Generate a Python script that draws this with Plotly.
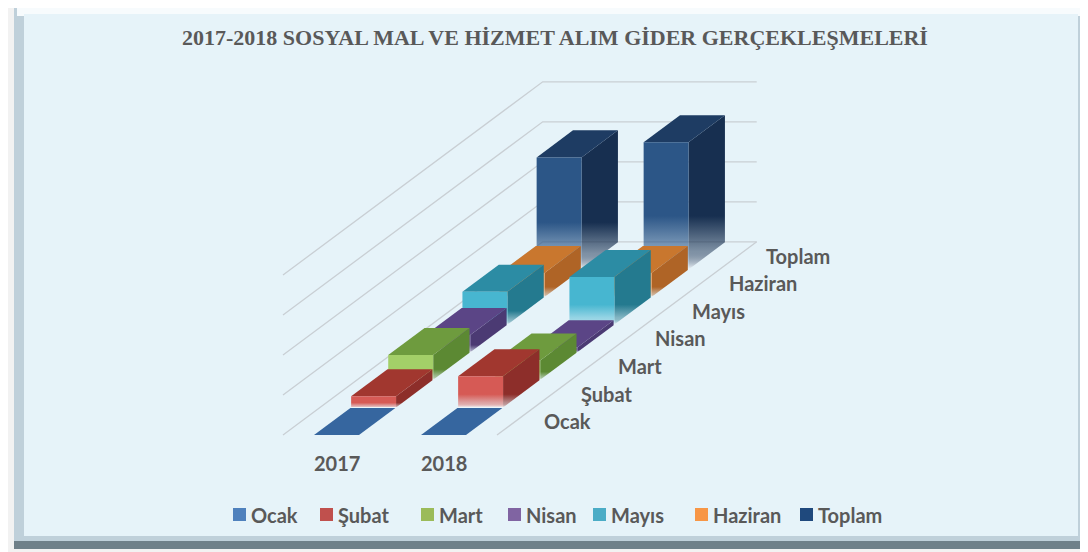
import plotly.graph_objects as go

# ---------------- data ----------------
categories = ["2017", "2018"]
series = ["Ocak", "Şubat", "Mart", "Nisan", "Mayıs", "Haziran", "Toplam"]
values_2017 = [0.0, 0.28, 0.62, 0.43, 0.82, 0.60, 2.80]
values_2018 = [0.0, 0.78, 0.48, 0.12, 1.19, 0.60, 3.18]
grid_values = [0, 1, 2, 3, 4]
title_text = "2017-2018 SOSYAL MAL VE HİZMET ALIM GİDER GERÇEKLEŞMELERİ"

values = {"2017": values_2017, "2018": values_2018}

# ---------------- styles ----------------
legend_colors = ["#4F81BD", "#C0504D", "#9BBB59", "#8064A2", "#4BACC6", "#F79646", "#1F497D"]
front_colors = ["#4A7BB5", "#D65A55", "#A3CF68", "#7D62A6", "#47B6D0", "#F2994C", "#2C5687"]
top_colors = ["#36669F", "#A1372F", "#6E9B3E", "#5B4586", "#2C8CA4", "#C9772E", "#1E3C63"]
side_colors = ["#2E5A8E", "#8D2E2A", "#5C8933", "#4B3A73", "#247A8F", "#AF6426", "#172F50"]
BG = "#E6F3F9"
TXT = "#595959"

# oblique projection (value units -> plot coords)
X0, Y0 = 283.0, 435.0      # front-left floor corner
CW = 107.0                 # width of one category
DX, DY = 37.1, 27.6        # depth offset of one series row
ZU = 40.0                  # height of one value unit
BAR_W = 0.42               # bar width (fraction of category)
NROWS = len(series)
NCAT = len(categories)
OFF = 8                    # page body margin compensation


def P(u, v, z):
    return X0 + u * CW + v * DX, Y0 - v * DY - z * ZU


def hex_rgba(h, a=1.0):
    h = h.lstrip("#")
    r, g, b = int(h[0:2], 16), int(h[2:4], 16), int(h[4:6], 16)
    return f"rgba({r},{g},{b},{a})"


fig = go.Figure()


def poly(points, color, gradient=None):
    xs = [p[0] for p in points] + [points[0][0]]
    ys = [p[1] for p in points] + [points[0][1]]
    kw = dict(x=xs, y=ys, mode="lines", fill="toself", line=dict(width=0, color=color),
              hoverinfo="skip", showlegend=False, fillcolor=color)
    if gradient is not None:
        y_bot, y_top = gradient
        kw["fillgradient"] = dict(
            type="vertical",
            colorscale=[[0.0, hex_rgba("#F2F8FB", 1.0)],
                        [0.14, hex_rgba(color, 0.5)],
                        [0.42, hex_rgba(color, 1.0)],
                        [1.0, hex_rgba(color, 1.0)]],
            start=y_bot, stop=y_top)
    fig.add_trace(go.Scatter(**kw))


# ---------------- gridlines (left wall + back wall) ----------------
gx, gy = [], []
for g in grid_values:
    a = P(0, 0, g)
    b = P(0, NROWS, g)
    c = P(NCAT, NROWS, g)
    gx += [a[0], b[0], c[0], None]
    gy += [a[1], b[1], c[1], None]
a = P(NCAT, 0, 0)
b = P(NCAT, NROWS, 0)
gx += [a[0], b[0], None]
gy += [a[1], b[1], None]
fig.add_trace(go.Scatter(x=gx, y=gy, mode="lines", line=dict(color="#C9CFD4", width=1.3),
                         hoverinfo="skip", showlegend=False))

# ---------------- 3D bars (back to front) ----------------
for j in range(NROWS - 1, -1, -1):
    for i, cat in enumerate(categories):
        z = values[cat][j]
        u0 = i + (1 - BAR_W) / 2
        u1 = u0 + BAR_W
        v0, v1 = j, j + 0.98
        y_bot = P(u0, v0, 0)[1]
        y_top = P(u0, v0, z)[1]
        if z > 0:
            poly([P(u1, v0, 0), P(u1, v1, 0), P(u1, v1, z), P(u1, v0, z)],
                 side_colors[j], gradient=(y_bot, y_top))
        poly([P(u0, v0, z), P(u1, v0, z), P(u1, v1, z), P(u0, v1, z)], top_colors[j])
        if z > 0:
            poly([P(u0, v0, 0), P(u1, v0, 0), P(u1, v0, z), P(u0, v0, z)],
                 front_colors[j], gradient=(y_bot, y_top))

annotations = []
for j, name in enumerate(series):
    x, y = P(NCAT, j + 0.5, 0)
    annotations.append(dict(x=x + 26, y=y, xref="x", yref="y", text=name, showarrow=False,
                            xanchor="left", yanchor="middle",
                            font=dict(family="Lato", size=20, color=TXT, weight="bold")))
for i, cat in enumerate(categories):
    x, y = P(i + 0.5, 0, 0)
    annotations.append(dict(x=x, y=y + 28, xref="x", yref="y", text=cat, showarrow=False,
                            xanchor="center", yanchor="middle",
                            font=dict(family="Lato", size=20, color=TXT, weight="bold")))
annotations.append(dict(x=555, y=37, xref="x", yref="y", text=title_text, showarrow=False,
                        xanchor="center", yanchor="middle",
                        font=dict(family="Liberation Serif", size=22, color=TXT, weight="bold")))

legend_sq_x = [233, 320, 421, 508, 593, 695, 800]
shapes = []
shapes.append(dict(type="rect", xref="x", yref="y", x0=0, y0=0, x1=1096, y1=560,
                   fillcolor="#F2F2F2", line=dict(width=0), layer="below"))
shapes.append(dict(type="rect", xref="x", yref="y", x0=0, y0=0, x1=1096, y1=3,
                   fillcolor="#DCDCDC", line=dict(width=0), layer="below"))
shapes.append(dict(type="rect", xref="x", yref="y", x0=14, y0=4, x1=1096, y1=549,
                   fillcolor="#6F8089", line=dict(width=0), layer="below"))
shapes.append(dict(type="rect", xref="x", yref="y", x0=14, y0=4, x1=1084, y1=541,
                   fillcolor="#BFD0DA", line=dict(width=0), layer="below"))
shapes.append(dict(type="rect", xref="x", yref="y", x0=17, y0=7, x1=1082, y1=16,
                   fillcolor="#F7FBFD", line=dict(width=0), layer="below"))
shapes.append(dict(type="rect", xref="x", yref="y", x0=24, y0=14, x1=1078, y1=536,
                   fillcolor=BG, line=dict(width=0), layer="below"))
for k, name in enumerate(series):
    sx = legend_sq_x[k]
    shapes.append(dict(type="rect", xref="x", yref="y", x0=sx, y0=508, x1=sx + 13, y1=521,
                       fillcolor=legend_colors[k], line=dict(width=0), layer="above"))
    annotations.append(dict(x=sx + 16, y=515, xref="x", yref="y", text=name, showarrow=False,
                            xanchor="left", yanchor="middle",
                            font=dict(family="Lato", size=20, color=TXT, weight="bold")))

fig.update_layout(
    width=1088, height=552,
    margin=dict(l=0, r=0, t=0, b=0),
    paper_bgcolor="#F2F2F2",
    plot_bgcolor="rgba(0,0,0,0)",
    xaxis=dict(range=[OFF, 1088 + OFF], visible=False, fixedrange=True),
    yaxis=dict(range=[552 + OFF, OFF], visible=False, fixedrange=True),
    showlegend=False,
    shapes=shapes,
    annotations=annotations,
)

fig.write_html("out.html")
